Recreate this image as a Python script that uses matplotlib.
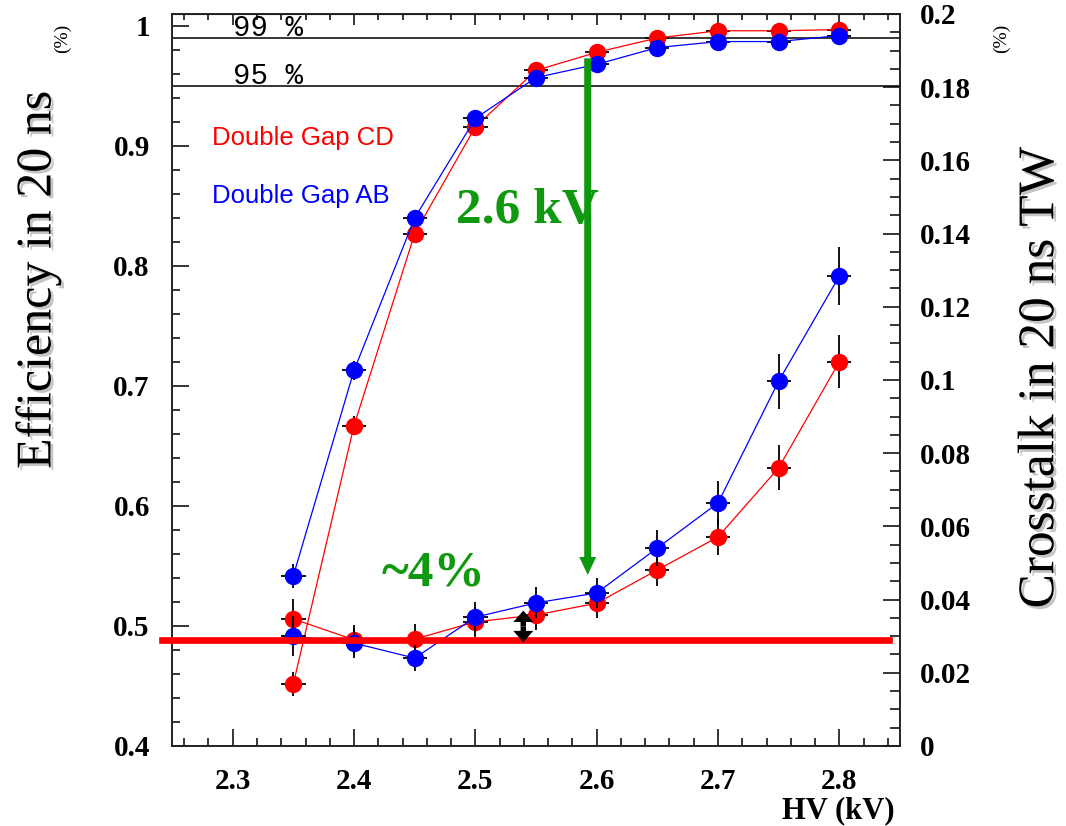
import matplotlib.pyplot as plt
import matplotlib.patheffects as pe
from matplotlib.patches import FancyArrow
from matplotlib.ticker import MultipleLocator, FuncFormatter, NullFormatter

# HV scan points (kV)
hv = [2.35, 2.40, 2.45, 2.50, 2.55, 2.60, 2.65, 2.70, 2.75, 2.80]
hv_err = [0.01] * 10

# efficiency in 20 ns (left axis)
eff_cd = [0.452, 0.667, 0.827, 0.916, 0.963, 0.978, 0.990, 0.996, 0.996, 0.997]
eff_cd_err = [0.010, 0.008, 0.006, 0.005, 0.004, 0.003, 0.003, 0.002, 0.002, 0.002]
eff_ab = [0.542, 0.713, 0.840, 0.923, 0.957, 0.968, 0.982, 0.987, 0.987, 0.992]
eff_ab_err = [0.010, 0.008, 0.006, 0.005, 0.004, 0.003, 0.003, 0.002, 0.002, 0.002]

# crosstalk in 20 ns TW (right axis)
xt_cd = [0.0347, 0.0290, 0.0292, 0.0339, 0.0358, 0.0390, 0.0481, 0.0571, 0.0760, 0.1050]
xt_cd_err = [0.0055, 0.004, 0.004, 0.004, 0.004, 0.004, 0.0045, 0.005, 0.0062, 0.0072]
xt_ab = [0.0300, 0.0281, 0.0240, 0.0352, 0.0391, 0.0418, 0.0541, 0.0664, 0.0997, 0.1284]
xt_ab_err = [0.0055, 0.004, 0.0035, 0.004, 0.0042, 0.004, 0.005, 0.006, 0.0075, 0.008]

xt_limit = 0.029
eff_lines = [0.99, 0.95]
eff_line_labels = ['99 %', '95 %']

plt.rcParams['font.family'] = 'serif'
plt.rcParams['font.serif'] = ['Liberation Serif', 'DejaVu Serif']
plt.rcParams['font.weight'] = 'bold'

green = '#0e990e'

fig = plt.figure(figsize=(10.66, 8.26), dpi=100)
ax = fig.add_axes([0.1614, 0.0969, 0.6829, 0.8862])
ax2 = ax.twinx()

ax.set_xlim(2.25, 2.85)
ax.set_ylim(0.4, 1.01)
ax2.set_ylim(0, 0.2)

fmt = FuncFormatter(lambda v, p: '%g' % round(v, 4))
ax.xaxis.set_major_locator(MultipleLocator(0.1))
ax.xaxis.set_minor_locator(MultipleLocator(0.02))
ax.yaxis.set_major_locator(MultipleLocator(0.1))
ax.yaxis.set_minor_locator(MultipleLocator(0.02))
ax2.yaxis.set_major_locator(MultipleLocator(0.02))
ax2.yaxis.set_minor_locator(MultipleLocator(0.005))
ax.xaxis.set_major_formatter(fmt)
ax.yaxis.set_major_formatter(fmt)
ax2.yaxis.set_major_formatter(fmt)

ax.tick_params(axis='both', which='major', direction='in', length=12, width=1.1, labelsize=21)
ax.tick_params(axis='both', which='minor', direction='in', length=6, width=1.1)
ax.tick_params(axis='y', which='both', right=False, pad=16)
ax.tick_params(axis='x', which='major', pad=16)
ax2.tick_params(axis='y', which='major', direction='in', length=12, width=1.1, labelsize=21, pad=14)
ax2.tick_params(axis='y', which='minor', direction='in', length=7, width=1.1)

top = ax.secondary_xaxis('top')
top.xaxis.set_major_locator(MultipleLocator(0.1))
top.xaxis.set_minor_locator(MultipleLocator(0.02))
top.xaxis.set_major_formatter(NullFormatter())
top.tick_params(which='major', direction='in', length=8, width=1.1)
top.tick_params(which='minor', direction='in', length=4, width=1.1)

for a in (ax, ax2):
    for s in a.spines.values():
        s.set_linewidth(1.2)
        s.set_color('#222222')

# 99 % / 95 % reference lines
for lvl, lab in zip(eff_lines, eff_line_labels):
    ax.axhline(lvl, color='black', lw=1.1)
    ax.text(2.3, lvl + 0.0017, lab, family='Liberation Mono', fontweight='normal',
            fontsize=21, ha='left', va='baseline')

# efficiency curves
for y, ye, c in [(eff_cd, eff_cd_err, 'red'), (eff_ab, eff_ab_err, 'blue')]:
    ax.errorbar(hv, y, yerr=ye, xerr=hv_err, fmt='none', ecolor='black', elinewidth=1.3)
    ax.plot(hv, y, '-o', color=c, lw=0.9, ms=11.5, mec=c)

# crosstalk curves
for y, ye, c in [(xt_cd, xt_cd_err, 'red'), (xt_ab, xt_ab_err, 'blue')]:
    ax2.errorbar(hv, y, yerr=ye, xerr=hv_err, fmt='none', ecolor='black', elinewidth=1.3)
    ax2.plot(hv, y, '-o', color=c, lw=0.9, ms=11.5, mec=c)

# crosstalk limit
ax2.axhline(xt_limit, xmin=-0.014, xmax=0.985, color='red', lw=4.8, clip_on=False, zorder=5)

# legend texts
ax.text(2.2827, 0.9008, 'Double Gap CD', color='red', family='Liberation Sans',
        fontweight='normal', fontsize=18.5, ha='left', va='baseline')
ax.text(2.2827, 0.8525, 'Double Gap AB', color='blue', family='Liberation Sans',
        fontweight='normal', fontsize=18.5, ha='left', va='baseline')

# annotations
ax2.text(2.4844, 0.8358, '2.6 kV', color=green, fontsize=37, ha='left', va='baseline',
         transform=ax.transData, zorder=6)
ax2.text(2.4226, 0.534, '~4%', color=green, fontsize=37, ha='left', va='baseline',
         transform=ax.transData, zorder=6)

arr = FancyArrow(2.5926, 0.973, 0, 0.5425 - 0.973, width=0.0058, head_width=0.014,
                 head_length=0.015, length_includes_head=True, color=green, lw=0)
arr.set_transform(ax.transData)
arr.set_zorder(6)
ax2.add_patch(arr)

mid = 0.4996
for end in (0.5128, 0.4864):
    a = FancyArrow(2.5395, mid, 0, end - mid, width=0.0045, head_width=0.0165,
                   head_length=0.0095, length_includes_head=True, color='black', lw=0)
    a.set_transform(ax.transData)
    a.set_zorder(7)
    ax2.add_patch(a)

# axis titles
shadow = [pe.SimplePatchShadow(offset=(2, -2), shadow_rgbFace='gray', alpha=0.45), pe.Normal()]
fig.text(38 / 1066, 0.661, 'Efficiency in 20 ns', rotation=90, ha='center', va='center',
         fontsize=36, fontweight='normal', path_effects=shadow)
fig.text(1041 / 1066, 0.543, 'Crosstalk in 20 ns TW', rotation=90, ha='center', va='center',
         fontsize=37, fontweight='normal', path_effects=shadow)
fig.text(895 / 1066, 1 - 818 / 826, 'HV (kV)', ha='right', va='baseline', fontsize=22)

# leftover unit marks
fig.text(62 / 1066, 1 - 38 / 826, '(%)', rotation=90, ha='center', va='center',
         fontsize=14, fontweight='normal')
fig.text(1001 / 1066, 1 - 38 / 826, '(%)', rotation=90, ha='center', va='center',
         fontsize=14, fontweight='normal')

fig.savefig('out.png', dpi=100)
